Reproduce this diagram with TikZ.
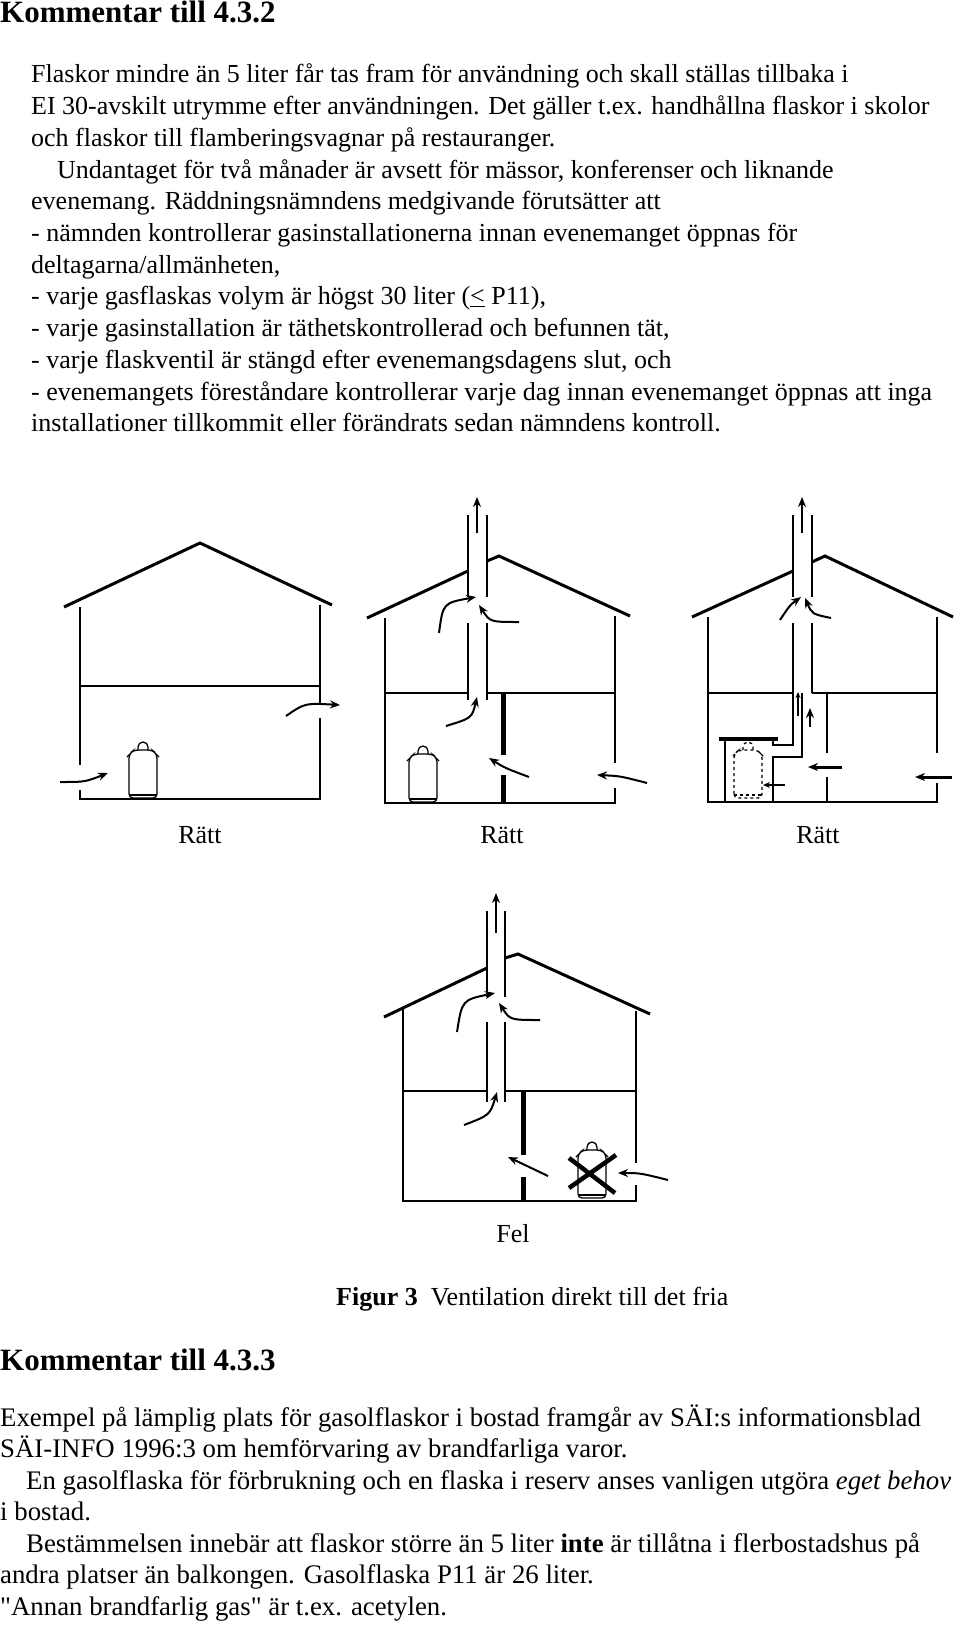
\documentclass[tikz,border=0pt]{standalone}
\usepackage{fontspec}
\setmainfont{Liberation Serif}
\usetikzlibrary{arrows.meta}
\begin{document}
\begin{tikzpicture}[x=1pt,y=-1pt,
  wall/.style={line width=2.2pt},
  flr/.style={line width=2.8pt},
  part/.style={line width=5pt},
  roof/.style={line width=3pt,line join=miter},
  air/.style={line width=2pt,-{Stealth[length=10pt,width=8pt]}},
  txt/.style={anchor=base west,inner sep=0pt,font=\fontsize{26}{30}\selectfont},
  btxt/.style={anchor=base west,inner sep=0pt,font=\fontsize{26.8}{30}\selectfont},
  hd/.style={anchor=base west,inner sep=0pt,font=\fontsize{31}{36}\selectfont\bfseries},
  lbl/.style={anchor=base,inner sep=0pt,font=\fontsize{26}{30}\selectfont},
  cyl/.pic={
    \draw[line width=1.3pt,rounded corners=4pt,pic actions] (-14,0) -- (-14,-44) -- (-9,-48) -- (9,-48) -- (14,-44) -- (14,0) -- cycle;
    \draw[line width=1.3pt,pic actions] (-5,-48) -- (-5,-51) arc(180:360:5) -- (5,-48);
    \draw[line width=1.2pt,pic actions] (-14,-3) -- (14,-3);
    \draw[line width=1.2pt,pic actions] (-13,-44) -- (-16,-41);
    \draw[line width=1.2pt,pic actions] (13,-44) -- (16,-41);
  }]
\useasboundingbox (0,0) rectangle (960,1627);
\fill[white] (0,0) rectangle (960,1627);

% ---------- top text
\node[hd] (h1) at (0,23) {Kommentar till 4.3.2};
\node[txt] (t1) at (31,83) {Flaskor mindre än 5 liter får tas fram för användning och skall ställas tillbaka i};
\node[txt] (t2) at (31,114.7) {EI 30-avskilt utrymme efter användningen. Det gäller t.ex. handhållna flaskor i skolor};
\node[txt] (t3) at (31,146.4) {och flaskor till flamberingsvagnar på restauranger.};
\node[txt] (t4) at (57,178.1) {Undantaget för två månader är avsett för mässor, konferenser och liknande};
\node[txt] (t5) at (31,209.8) {evenemang. Räddningsnämndens medgivande förutsätter att};
\node[txt] (t6) at (31,241.5) {- nämnden kontrollerar gasinstallationerna innan evenemanget öppnas för};
\node[txt] (t7) at (31,273.2) {deltagarna/allmänheten,};
\node[txt] (t8) at (31,304.9) {- varje gasflaskas volym är högst 30 liter (\underline{<} P11),};
\node[txt] (t9) at (31,336.6) {- varje gasinstallation är täthetskontrollerad och befunnen tät,};
\node[txt] (t10) at (31,368.3) {- varje flaskventil är stängd efter evenemangsdagens slut, och};
\node[txt] (t11) at (31,400) {- evenemangets föreståndare kontrollerar varje dag innan evenemanget öppnas att inga};
\node[txt] (t12) at (31,431.7) {installationer tillkommit eller förändrats sedan nämndens kontroll.};

% ---------- House 1
\draw[roof] (64,607) -- (200,543) -- (332,605);
\draw[wall] (80,607) -- (80,765);
\draw[wall] (80,790) -- (80,799);
\draw[wall] (320,605) -- (320,703);
\draw[wall] (320,718) -- (320,799);
\draw[flr] (80,686) -- (320,686);
\draw[flr] (79,799) -- (321,799);
\pic at (143,798) {cyl};
\draw[air] (60,782) .. controls (85,782) .. (108,773);
\draw[air] (286,716) .. controls (305,703) .. (340,705);
\node[lbl] (r1) at (200,843) {Rätt};

% ---------- House 2
\draw[roof] (367,618) -- (468,571);
\draw[roof] (487,561) -- (499,556) -- (630,616);
\draw[wall] (468,515) -- (468,597) (487,515) -- (487,597);
\draw[wall] (468,623) -- (468,700) (487,623) -- (487,700);
\draw[wall] (385,618) -- (385,803);
\draw[wall] (615,616) -- (615,763);
\draw[wall] (615,788) -- (615,803);
\draw[flr] (385,693) -- (468,693) (487,693) -- (615,693);
\draw[flr] (384,803) -- (616,803);
\draw[part] (503,693) -- (503,755) (503,775) -- (503,803);
\pic at (423,802) {cyl};
\draw[air] (477,533) -- (477,497);
\draw[air] (439,633) .. controls (443,603) .. (476,597);
\draw[air] (519,622) .. controls (490,622) .. (479,605);
\draw[air] (446,726) .. controls (472,718) .. (477,697);
\draw[air] (529,777) .. controls (505,768) .. (489,758);
\draw[air] (647,783) .. controls (620,776) .. (597,775);
\node[lbl] (r2) at (502,843) {Rätt};

% ---------- House 3
\draw[roof] (692,617) -- (793,571);
\draw[roof] (812,562) -- (825,556) -- (953,617);
\draw[wall] (793,515) -- (793,597) (812,515) -- (812,597);
\draw[wall] (793,623) -- (793,745) -- (773,745) -- (773,740);
\draw[wall] (812,623) -- (812,693);
\draw[wall] (802,693) -- (802,757) -- (773,757) -- (773,802);
\draw[line width=4pt] (719,739) -- (778,739);
\draw[wall] (725,741) -- (725,802);
\draw[wall] (708,617) -- (708,802);
\draw[wall] (937,617) -- (937,753) (937,783) -- (937,802);
\draw[flr] (708,693) -- (793,693) (812,693) -- (937,693);
\draw[flr] (707,802) -- (938,802);
\draw[wall] (827,693) -- (827,753) (827,777) -- (827,802);
\pic[dashed] at (748,798) {cyl};
\draw[air] (802,533) -- (802,497);
\draw[air] (780,620) .. controls (790,605) .. (801,597);
\draw[air] (831,618) .. controls (812,614) .. (805,598);
\draw[air,line width=1.4pt,-{Stealth[length=6pt,width=5pt]}] (798,716) -- (798,692);
\draw[air] (810,727) -- (810,708);
\draw[air,line width=3pt] (842,767) -- (808,767);
\draw[air,line width=3pt] (952,777) -- (915,777);
\draw[air,line width=1.6pt,-{Stealth[length=7pt,width=6pt]}] (785,785) -- (763,785);
\node[lbl] (r3) at (818,843) {Rätt};

% ---------- House 4
\draw[roof] (384,1017) -- (487,968);
\draw[roof] (505,958) -- (518,954) -- (650,1014);
\draw[wall] (487,911) -- (487,997) (505,911) -- (505,997);
\draw[wall] (487,1022) -- (487,1102) (505,1022) -- (505,1102);
\draw[wall] (403,1009) -- (403,1201);
\draw[wall] (636,1011) -- (636,1163) (636,1185) -- (636,1201);
\draw[flr] (403,1091) -- (487,1091) (505,1091) -- (636,1091);
\draw[flr] (402,1201) -- (637,1201);
\draw[part] (523,1091) -- (523,1155) (523,1177) -- (523,1201);
\pic at (592,1198) {cyl};
\draw[line width=4.5pt] (569,1158) -- (615,1193) (569,1188) -- (616,1155);
\draw[air] (496,933) -- (496,893);
\draw[air] (457,1032) .. controls (462,1000) .. (495,993);
\draw[air] (540,1020) .. controls (510,1020) .. (499,1003);
\draw[air] (464,1125) .. controls (490,1115) .. (497,1092);
\draw[air] (548,1176) .. controls (525,1165) .. (508,1157);
\draw[air] (668,1180) .. controls (640,1173) .. (618,1173);
\node[lbl] (f) at (513,1242) {Fel};

% ---------- caption and bottom text
\node[txt] (cap) at (336,1305) {\textbf{Figur 3}\ \ Ventilation direkt till det fria};
\node[hd] (h2) at (0,1370) {Kommentar till 4.3.3};
\node[btxt] (b1) at (0,1426) {Exempel på lämplig plats för gasolflaskor i bostad framgår av SÄI:s informationsblad};
\node[btxt] (b2) at (0,1457.5) {SÄI-INFO 1996:3 om hemförvaring av brandfarliga varor.};
\node[btxt] (b3) at (26,1489) {En gasolflaska för förbrukning och en flaska i reserv anses vanligen utgöra \textit{eget behov}};
\node[btxt] (b4) at (0,1520.5) {i bostad.};
\node[btxt] (b5) at (26,1552) {Bestämmelsen innebär att flaskor större än 5 liter \textbf{inte} är tillåtna i flerbostadshus på};
\node[btxt] (b6) at (0,1583.5) {andra platser än balkongen. Gasolflaska P11 är 26 liter.};
\node[btxt] (b7) at (0,1615) {\textquotedbl Annan brandfarlig gas\textquotedbl\ är t.ex. acetylen.};
\end{tikzpicture}
\end{document}
